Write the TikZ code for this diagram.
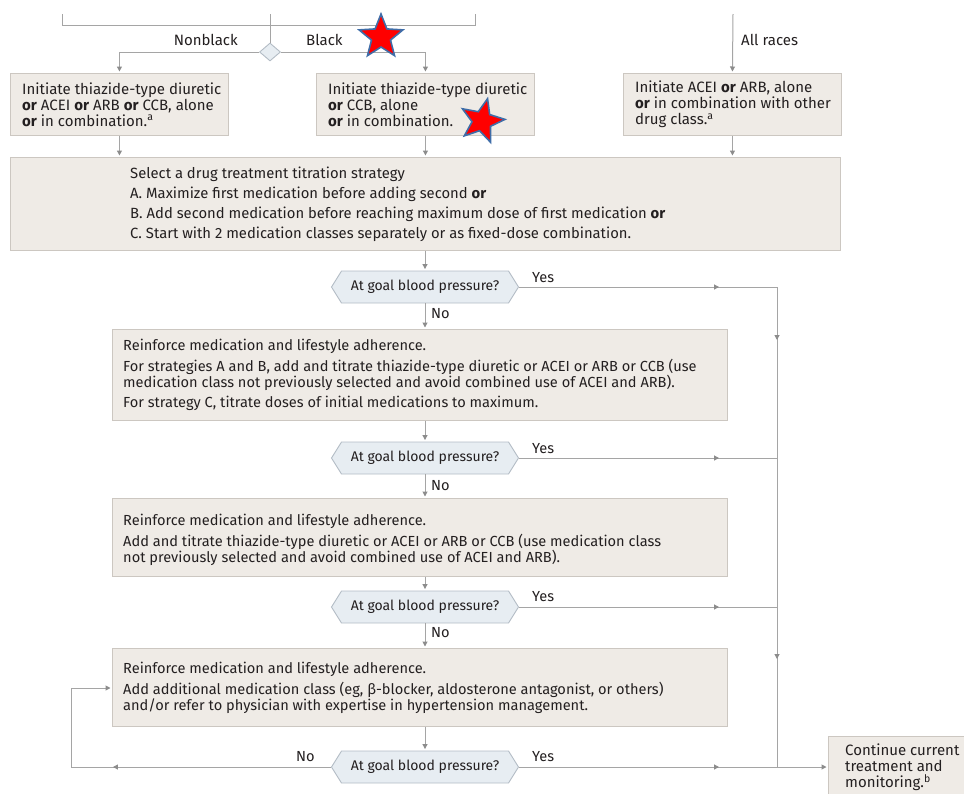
\documentclass[tikz,border=0pt]{standalone}
\usepackage{fontspec}
\setmainfont{Fira Sans}
\usetikzlibrary{arrows.meta,shapes.geometric,shapes.symbols,decorations.markings}
\definecolor{boxfill}{HTML}{EFEBE6}
\definecolor{boxdraw}{HTML}{CCC7C1}
\definecolor{decfill}{HTML}{E7EDF2}
\definecolor{decdraw}{HTML}{B3BCC5}
\definecolor{linec}{HTML}{A5A5A5}
\definecolor{arrc}{HTML}{8C8C8C}
\definecolor{textc}{HTML}{231F20}
\definecolor{starblue}{HTML}{3F6DA8}
\begin{document}
\begin{tikzpicture}[x=1pt,y=-1pt,
  box/.style={draw=boxdraw, fill=boxfill, line width=0.9pt, inner sep=0pt, anchor=north west},
  txt/.style={align=left, inner sep=0pt, text=textc, font=\fontsize{14.6}{16}\selectfont},
  toptxt/.style={txt, font=\fontsize{15}{16}\selectfont},
  lbl/.style={inner sep=0pt, text=textc, font=\fontsize{15}{16}\selectfont},
  yn/.style={inner sep=0pt, text=textc, font=\fontsize{14.6}{16}\selectfont},
  dec/.style={signal, signal to=west and east, signal pointer angle=116, draw=decdraw, fill=decfill,
    line width=0.9pt, minimum width=187pt, minimum height=32pt, inner sep=0pt, text=textc,
    font=\fontsize{14}{16}\selectfont},
  line/.style={draw=linec, line width=1pt},
  tip/.style={-{Triangle[width=5pt,length=5pt,color=arrc]}, shorten >=1.5pt},
  conn/.style={line, tip},
  midarrow/.style={postaction={decorate}, decoration={markings,
    mark=at position #1 with {\arrow{Triangle[width=5pt,length=5pt,color=arrc]}}}},
  twomid/.style 2 args={postaction={decorate}, decoration={markings,
    mark=at position #1 with {\arrow{Triangle[width=5pt,length=5pt,color=arrc]}},
    mark=at position #2 with {\arrow{Triangle[width=5pt,length=5pt,color=arrc]}}}},
  redstar/.style={star, star points=5, star point ratio=2.3, fill=red, draw=starblue,
    line width=1.6pt, minimum size=46pt, inner sep=0pt}
]
\useasboundingbox (0,0) rectangle (964,793);

% top feeding lines
\coordinate (tl) at (62,14);
\coordinate (tr) at (475,14);
\coordinate (tc) at (270,14);
\coordinate (ta) at (733,14);
\draw[line] (tl) -- (62,25) -- (475,25) -- (tr);

\node[diamond, draw=decdraw, fill=decfill, line width=0.9pt, minimum width=21pt,
  minimum height=18pt, inner sep=0pt] (dm) at (270,52) {};
\draw[line] (tc) -- (dm.north);

% initial boxes
\node[box, minimum width=218pt, minimum height=62pt] (b1) at (10,73) {};
\node[box, minimum width=218pt, minimum height=62pt] (b2) at (316,73) {};
\node[box, minimum width=218pt, minimum height=62pt] (b3) at (623,73) {};
\node[toptxt, anchor=west] (t1) at ([xshift=12pt]b1.west)
  {Initiate thiazide-type diuretic\\\textbf{or} ACEI \textbf{or} ARB \textbf{or} CCB, alone\\\textbf{or} in combination.\textsuperscript{a}};
\node[toptxt, anchor=west] (t2) at ([xshift=12pt]b2.west)
  {Initiate thiazide-type diuretic\\\textbf{or} CCB, alone\\\textbf{or} in combination.};
\node[toptxt, anchor=west] (t3) at ([xshift=12pt]b3.west)
  {Initiate ACEI \textbf{or} ARB, alone\\\textbf{or} in combination with other\\drug class.\textsuperscript{a}};

\draw[conn] (dm.west) -| (b1.north);
\draw[conn] (dm.east) -| (b2.north);
\draw[conn] (ta) -- (b3.north);

\node[lbl, anchor=east] (lnb) at (238,40) {Nonblack};
\node[lbl, anchor=west] (lb) at (306,40) {Black};
\node[lbl, anchor=west] (lar) at (741,40) {All races};

% strategy box
\node[box, minimum width=830pt, minimum height=93pt] (s) at (10,157) {};
\node[txt, anchor=west, font=\fontsize{14.8}{20}\selectfont] (ts) at ([xshift=120pt]s.west)
  {Select a drug treatment titration strategy\\
   A. Maximize first medication before adding second \textbf{or}\\
   B. Add second medication before reaching maximum dose of first medication \textbf{or}\\
   C. Start with 2 medication classes separately or as fixed-dose combination.};
\draw[conn] (b1.south) -- (b1.south |- s.north);
\draw[conn] (b2.south) -- (b2.south |- s.north);
\draw[conn] (b3.south) -- (b3.south |- s.north);

% decisions and reinforce boxes
\node[dec] (d1) at (425,287) {At goal blood pressure?};
\draw[conn] (s.south -| d1.north) -- (d1.north);

\node[box, minimum width=615pt, minimum height=91pt] (r1) at (112,329) {};
\node[txt, anchor=west] (tr1) at ([xshift=11pt]r1.west)
  {Reinforce medication and lifestyle adherence.\\[5pt]
   For strategies A and B, add and titrate thiazide-type diuretic or ACEI or ARB or CCB (use\\
   medication class not previously selected and avoid combined use of ACEI and ARB).\\[4pt]
   For strategy C, titrate doses of initial medications to maximum.};
\draw[conn] (d1.south) -- (d1.south |- r1.north);

\node[dec] (d2) at (425,458) {At goal blood pressure?};
\draw[conn] (r1.south -| d2.north) -- (d2.north);

\node[box, minimum width=615pt, minimum height=78pt] (r2) at (112,498) {};
\node[txt, anchor=west] (tr2) at ([xshift=11pt,yshift=-2pt]r2.west)
  {Reinforce medication and lifestyle adherence.\\[5pt]
   Add and titrate thiazide-type diuretic or ACEI or ARB or CCB (use medication class\\
   not previously selected and avoid combined use of ACEI and ARB).};
\draw[conn] (d2.south) -- (d2.south |- r2.north);

\node[dec] (d3) at (425,607) {At goal blood pressure?};
\draw[conn] (r2.south -| d3.north) -- (d3.north);

\node[box, minimum width=615pt, minimum height=78pt] (r3) at (112,648) {};
\node[txt, anchor=west] (tr3) at ([xshift=11pt]r3.west)
  {Reinforce medication and lifestyle adherence.\\[5pt]
   Add additional medication class (eg, β-blocker, aldosterone antagonist, or others)\\
   and/or refer to physician with expertise in hypertension management.};
\draw[conn] (d3.south) -- (d3.south |- r3.north);

\node[dec] (d4) at (425,767) {At goal blood pressure?};
\draw[conn] (r3.south -| d4.north) -- (d4.north);

% continue box
\node[box, minimum width=140pt, minimum height=62pt] (c) at (828,736) {};
\node[toptxt, anchor=west] (tc2) at ([xshift=17pt]c.west)
  {Continue current\\treatment and\\monitoring.\textsuperscript{b}};

% labels
\node[yn, anchor=west] (y1) at (532,278) {Yes};
\node[yn, anchor=west] (n1) at (431,314) {No};
\node[yn, anchor=west] (y2) at (532,449) {Yes};
\node[yn, anchor=west] (n2) at (431,486) {No};
\node[yn, anchor=west] (y3) at (532,597) {Yes};
\node[yn, anchor=west] (n3) at (431,633) {No};
\node[yn, anchor=west] (y4) at (532,757) {Yes};
\node[yn, anchor=west] (n4) at (296,757) {No};

% yes lines
\coordinate (j1) at (777,287);
\coordinate (j2) at (777,458);
\coordinate (j3) at (777,607);
\coordinate (j4) at (777,767);
\draw[line, midarrow=200pt] (d1.east) -- (j1);
\draw[line, midarrow=200pt] (d2.east) -- (j2);
\draw[line, midarrow=200pt] (d3.east) -- (j3);
\draw[line, twomid={53pt}{372pt}] (j1) -- (j4);
\draw[conn, midarrow=200pt] (d4.east) -- (c.west |- d4.east);

% no loop
\coordinate (lp1) at (71,767);
\coordinate (lp2) at (71,688);
\draw[conn, midarrow=218pt] (d4.west) -- (lp1) -- (lp2) -- (r3.west |- lp2);

% stars
\node[redstar] (st1) at (381,37) {};
\node[redstar, rotate=-14] (st2) at (482,121) {};
\end{tikzpicture}
\end{document}
